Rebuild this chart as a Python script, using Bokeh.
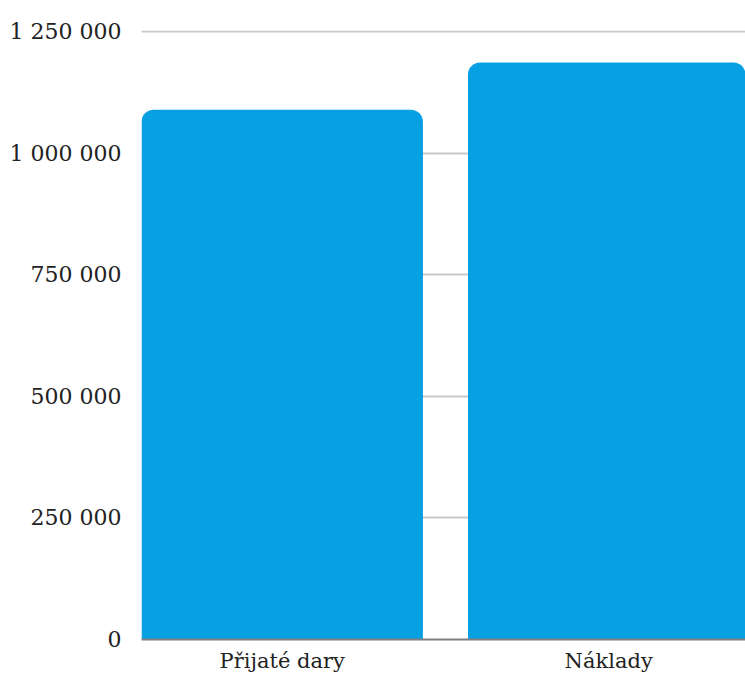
from bokeh.plotting import figure
from bokeh.models import Range1d, FixedTicker
from bokeh.embed import file_html
from bokeh.resources import INLINE

categories = ["Přijaté dary", "Náklady"]
values = [1089000, 1186000]
y_ticks = [0, 250000, 500000, 750000, 1000000, 1250000]
y_tick_labels = ["0", "250 000", "500 000", "750 000", "1 000 000", "1 250 000"]

xs = list(range(len(categories)))

p = figure(width=745, height=675, output_backend="svg", toolbar_location=None,
           x_range=Range1d(-0.431, 1.419), y_range=Range1d(0, 1252000),
           min_border_left=141, min_border_right=0, min_border_top=30, min_border_bottom=30)

p.vbar(x=xs, top=values, width=0.862, bottom=0, color="#07A0E2",
       line_color=None, border_radius=(12, 12, 0, 0))

p.outline_line_color = None
p.background_fill_color = "white"

p.xgrid.grid_line_color = None
p.ygrid.grid_line_color = "#c8c8c8"
p.ygrid.grid_line_width = 2
p.ygrid.ticker = FixedTicker(ticks=y_ticks)

font = "DejaVu Serif"

p.yaxis.ticker = FixedTicker(ticks=y_ticks)
p.yaxis.major_label_overrides = {t: l for t, l in zip(y_ticks, y_tick_labels)}
p.yaxis.axis_line_color = None
p.yaxis.major_tick_line_color = None
p.yaxis.minor_tick_line_color = None
p.yaxis.major_tick_in = 0
p.yaxis.major_tick_out = 0
p.yaxis.major_label_standoff = 20
p.yaxis.major_label_text_font = font
p.yaxis.major_label_text_font_size = "22px"
p.yaxis.major_label_text_color = "#222222"

p.xaxis.ticker = FixedTicker(ticks=xs)
p.xaxis.major_label_overrides = {x: c for x, c in zip(xs, categories)}
p.xaxis.axis_line_color = "#808080"
p.xaxis.axis_line_width = 2
p.xaxis.major_tick_line_color = None
p.xaxis.minor_tick_line_color = None
p.xaxis.major_tick_in = 0
p.xaxis.major_tick_out = 0
p.xaxis.major_label_standoff = 9
p.xaxis.major_label_text_font = font
p.xaxis.major_label_text_font_size = "21px"
p.xaxis.major_label_text_color = "#222222"

open("out.html", "w").write(file_html(p, INLINE))
